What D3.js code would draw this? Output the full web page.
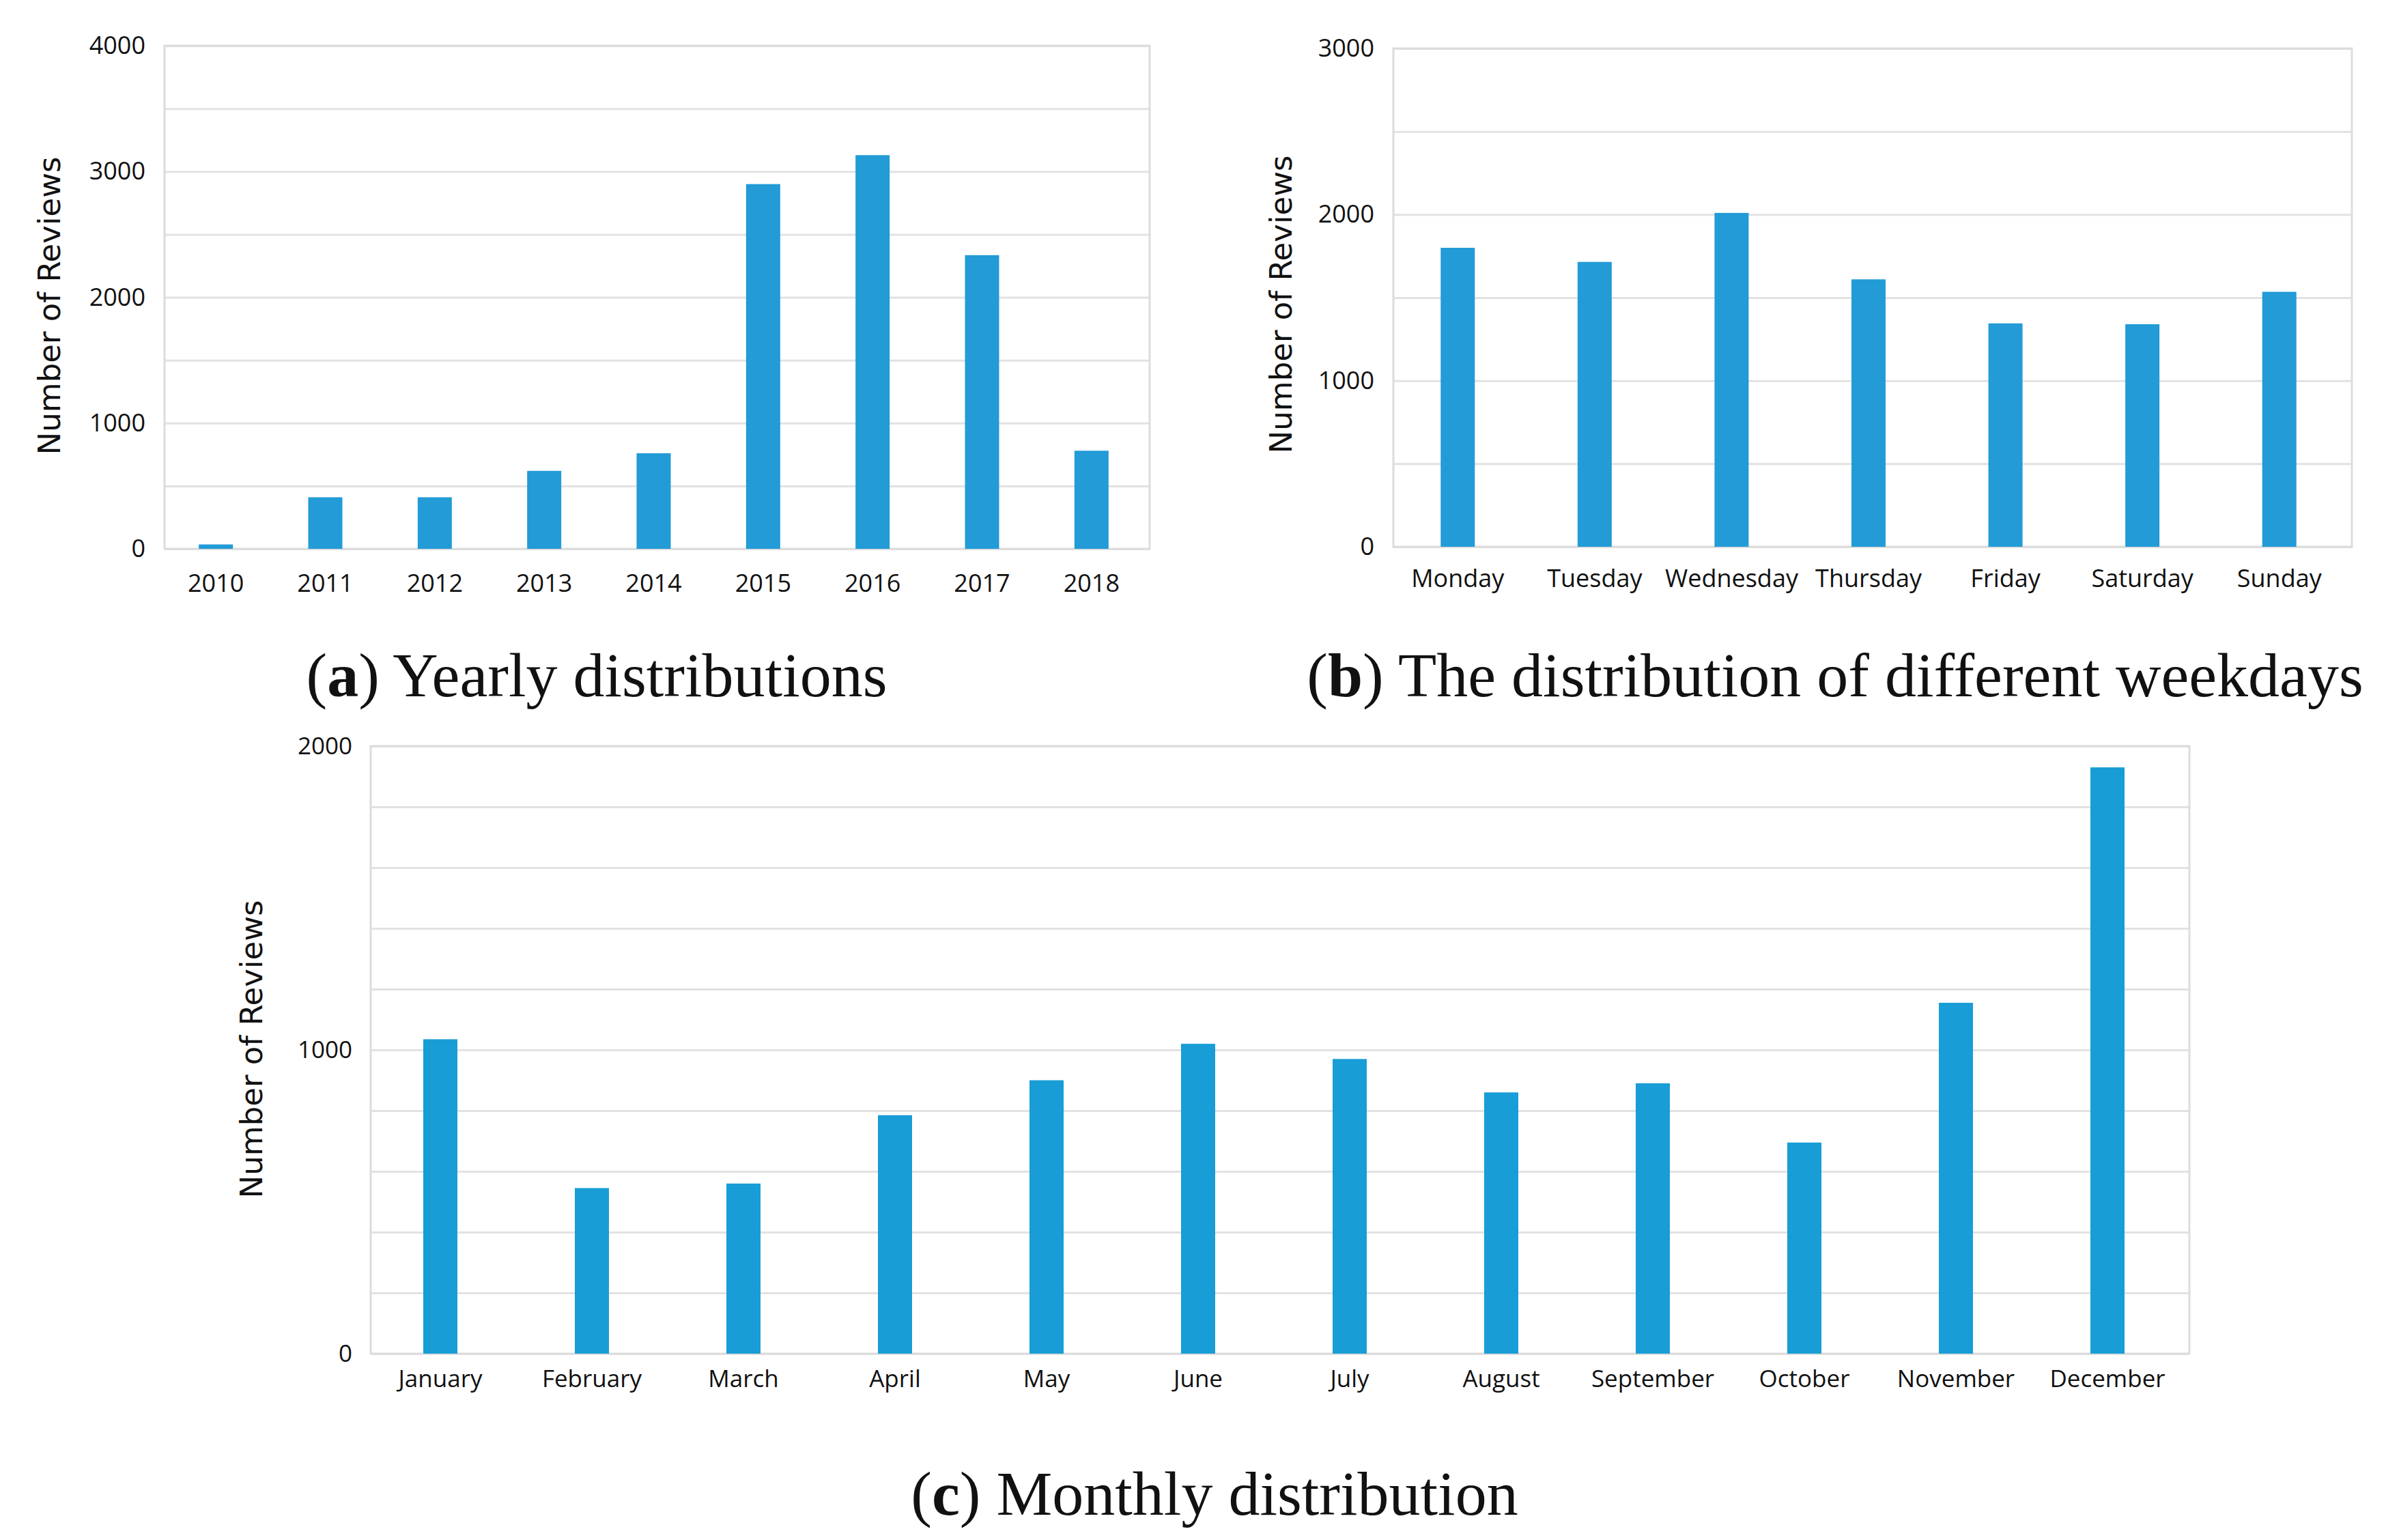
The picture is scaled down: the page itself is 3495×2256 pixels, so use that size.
<!DOCTYPE html>
<html>
<head>
<meta charset="utf-8">
<script src="https://cdn.jsdelivr.net/npm/d3@7"></script>
<style>
  body { margin: 0; background: #fff; }
  .tick text { font-family: "Open Sans", sans-serif; fill: #111; }
  .ytitle { font-family: "DejaVu Sans", sans-serif; fill: #111; }
  .caption { font-family: "Liberation Serif", serif; fill: #111; }
</style>
</head>
<body>
<script>
//chart values

var years = ["2010", "2011", "2012", "2013", "2014", "2015", "2016", "2017", "2018"];
var yearCounts = [35, 410, 410, 620, 760, 2900, 3130, 2335, 780];

var weekdays = ["Monday", "Tuesday", "Wednesday", "Thursday", "Friday", "Saturday", "Sunday"];
var weekdayCounts = [1800, 1715, 2010, 1610, 1345, 1340, 1535];

var months = ["January", "February", "March", "April", "May", "June", "July",
    "August", "September", "October", "November", "December"];
var monthCounts = [1035, 545, 560, 785, 900, 1020, 970, 860, 890, 695, 1155, 1930];

var yearTicks = [0, 1000, 2000, 3000, 4000];
var weekdayTicks = [0, 1000, 2000, 3000];
var monthTicks = [0, 1000, 2000];

var width = 3495,
    height = 2256;

var svg = d3.select("body")
    .append("svg")
    .attr("width", width)
    .attr("height", height);

svg.append("rect")
    .attr("width", width)
    .attr("height", height)
    .attr("fill", "#fff");

//one bar panel
function drawPanel(p){
    var g = svg.append("g");

    var x = d3.scaleBand()
        .domain(p.cats)
        .range([p.left, p.right]);

    var y = d3.scaleLinear()
        .domain([0, p.max])
        .range([p.bottom, p.top]);

    //gridlines
    g.append("g")
        .attr("transform", "translate(" + p.left + ",0)")
        .call(d3.axisLeft(y).tickValues(d3.range(0, p.max + 1, p.grid)).tickSize(-(p.right - p.left)).tickFormat(""))
        .call(function(a){
            a.select(".domain").remove();
            a.selectAll("line").attr("stroke", "#e2e2e2").attr("stroke-width", 3);
        });

    //frame
    g.append("rect")
        .attr("x", p.left)
        .attr("y", p.top)
        .attr("width", p.right - p.left)
        .attr("height", p.bottom - p.top)
        .attr("fill", "none")
        .attr("stroke", "#dcdcdc")
        .attr("stroke-width", 3);

    //bars
    g.selectAll(".bar")
        .data(p.vals)
        .enter()
        .append("rect")
        .attr("class", "bar")
        .attr("x", function(d, i){ return x(p.cats[i]) + x.bandwidth() / 2 - p.barW / 2 + p.shift; })
        .attr("y", function(d){ return y(d); })
        .attr("width", p.barW)
        .attr("height", function(d){ return p.bottom - y(d); })
        .attr("fill", p.color);

    //y tick labels
    g.append("g")
        .attr("transform", "translate(" + p.labelX + ",0)")
        .call(d3.axisLeft(y).tickValues(p.ticks).tickSize(0).tickPadding(0).tickFormat(d3.format("d")))
        .call(function(a){
            a.select(".domain").remove();
            a.selectAll("text").attr("font-size", p.tickSize);
        });

    //x tick labels
    g.append("g")
        .attr("transform", "translate(" + p.shift + "," + p.bottom + ")")
        .call(d3.axisBottom(x).tickSize(0).tickPadding(0))
        .call(function(a){
            a.select(".domain").remove();
            a.selectAll("text")
                .attr("font-size", p.tickSize)
                .attr("dy", null)
                .attr("y", p.xLabelDy);
        });

    //y title
    g.append("text")
        .attr("class", "ytitle")
        .attr("transform", "translate(" + p.titleX + "," + p.titleY + ") rotate(-90)")
        .attr("text-anchor", "middle")
        .attr("font-size", 45)
        .text("Number of Reviews");

    //caption
    var cap = g.append("text")
        .attr("class", "caption")
        .attr("x", p.capX)
        .attr("y", p.capY)
        .attr("text-anchor", "middle")
        .attr("font-size", 92);
    cap.append("tspan").text("(");
    cap.append("tspan").attr("font-weight", "bold").text(p.capLetter);
    cap.append("tspan").text(") " + p.capText);
}

drawPanel({
    cats: years, vals: yearCounts, ticks: yearTicks, max: 4000, grid: 500,
    left: 241, right: 1684, top: 67, bottom: 804,
    barW: 50, shift: -5, color: "#229bd7", tickSize: 36,
    labelX: 213, xLabelDy: 63, titleX: 88, titleY: 448,
    capX: 874, capY: 1020, capLetter: "a", capText: "Yearly distributions"
});

drawPanel({
    cats: weekdays, vals: weekdayCounts, ticks: weekdayTicks, max: 3000, grid: 500,
    left: 2041, right: 3445, top: 71, bottom: 801,
    barW: 50, shift: -6, color: "#229bd7", tickSize: 36,
    labelX: 2013, xLabelDy: 59, titleX: 1892, titleY: 446,
    capX: 2688, capY: 1020, capLetter: "b", capText: "The distribution of different weekdays"
});

drawPanel({
    cats: months, vals: monthCounts, ticks: monthTicks, max: 2000, grid: 200,
    left: 543, right: 3207, top: 1093, bottom: 1983,
    barW: 50, shift: -9, color: "#189dd6", tickSize: 35,
    labelX: 516, xLabelDy: 49, titleX: 384, titleY: 1537,
    capX: 1779, capY: 2219, capLetter: "c", capText: "Monthly distribution"
});
</script>
</body>
</html>
